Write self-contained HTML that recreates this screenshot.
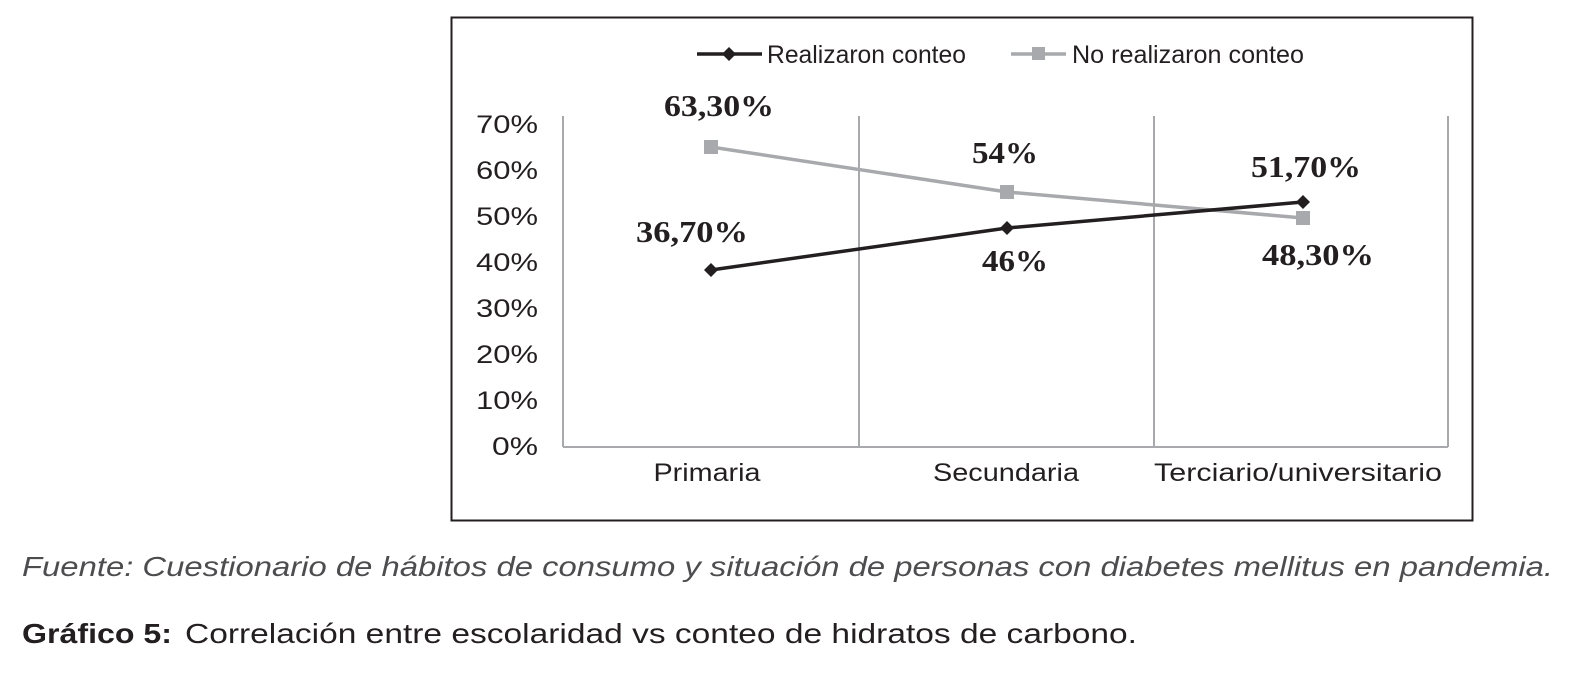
<!DOCTYPE html>
<html><head><meta charset="utf-8"><style>
html,body{margin:0;padding:0;background:#fff;}
svg{display:block;}
</style></head><body>
<svg width="1588" height="684" xmlns="http://www.w3.org/2000/svg" font-family="Liberation Sans, sans-serif">
<rect x="451.5" y="17.5" width="1021" height="503" fill="#fff" stroke="#231f20" stroke-width="2"/>
<g stroke="#a7a9ac" stroke-width="2" fill="none">
<line x1="563" y1="116" x2="563" y2="447"/>
<line x1="859" y1="116" x2="859" y2="447"/>
<line x1="1154" y1="116" x2="1154" y2="447"/>
<line x1="1448" y1="116" x2="1448" y2="447"/>
<line x1="563" y1="447" x2="1448" y2="447"/>
</g>
<g font-size="25" fill="#231f20" text-anchor="end">
<text x="538" y="133" textLength="62" lengthAdjust="spacingAndGlyphs">70%</text>
<text x="538" y="179" textLength="62" lengthAdjust="spacingAndGlyphs">60%</text>
<text x="538" y="225" textLength="62" lengthAdjust="spacingAndGlyphs">50%</text>
<text x="538" y="271" textLength="62" lengthAdjust="spacingAndGlyphs">40%</text>
<text x="538" y="317" textLength="62" lengthAdjust="spacingAndGlyphs">30%</text>
<text x="538" y="363" textLength="62" lengthAdjust="spacingAndGlyphs">20%</text>
<text x="538" y="409" textLength="62" lengthAdjust="spacingAndGlyphs">10%</text>
<text x="538" y="455" textLength="46" lengthAdjust="spacingAndGlyphs">0%</text>
</g>
<g font-size="25" fill="#231f20" text-anchor="middle">
<text x="707" y="481" textLength="107" lengthAdjust="spacingAndGlyphs">Primaria</text>
<text x="1006" y="481" textLength="146" lengthAdjust="spacingAndGlyphs">Secundaria</text>
<text x="1298" y="481" textLength="288" lengthAdjust="spacingAndGlyphs">Terciario/universitario</text>
</g>
<polyline points="711,147 1007,192 1303,218" fill="none" stroke="#a7a9ac" stroke-width="3.5"/>
<g fill="#a7a9ac">
<rect x="704" y="140" width="14" height="14"/>
<rect x="1000" y="185" width="14" height="14"/>
<rect x="1296" y="211" width="14" height="14"/>
</g>
<polyline points="711,270 1007,228 1303,202" fill="none" stroke="#231f20" stroke-width="3.5"/>
<g fill="#231f20">
<polygon points="711,263 718,270 711,277 704,270"/>
<polygon points="1007,221 1014,228 1007,235 1000,228"/>
<polygon points="1303,195 1310,202 1303,209 1296,202"/>
</g>
<g font-family="Liberation Serif, serif" font-weight="bold" font-size="31" fill="#231f20" text-anchor="middle">
<text x="719" y="116" textLength="110" lengthAdjust="spacingAndGlyphs">63,30%</text>
<text x="1005" y="163" textLength="66" lengthAdjust="spacingAndGlyphs">54%</text>
<text x="1306" y="177" textLength="110" lengthAdjust="spacingAndGlyphs">51,70%</text>
<text x="692" y="242" textLength="112" lengthAdjust="spacingAndGlyphs">36,70%</text>
<text x="1015" y="271" textLength="66" lengthAdjust="spacingAndGlyphs">46%</text>
<text x="1318" y="265" textLength="112" lengthAdjust="spacingAndGlyphs">48,30%</text>
</g>
<line x1="697" y1="54" x2="762" y2="54" stroke="#231f20" stroke-width="3.5"/>
<polygon points="729,47 736,54 729,61 722,54" fill="#231f20"/>
<text x="767" y="63" font-size="25" fill="#231f20" textLength="199" lengthAdjust="spacingAndGlyphs">Realizaron conteo</text>
<line x1="1011" y1="54" x2="1066" y2="54" stroke="#a7a9ac" stroke-width="3.5"/>
<rect x="1032" y="47" width="13" height="13" fill="#a7a9ac"/>
<text x="1072" y="63" font-size="25" fill="#231f20" textLength="232" lengthAdjust="spacingAndGlyphs">No realizaron conteo</text>
<text x="22" y="576" font-size="28" font-style="italic" fill="#4d4d4f" textLength="1531" lengthAdjust="spacingAndGlyphs">Fuente: Cuestionario de hábitos de consumo y situación de personas con diabetes mellitus en pandemia.</text>
<text x="22" y="643" font-size="28" font-weight="bold" fill="#231f20" textLength="150" lengthAdjust="spacingAndGlyphs">Gráfico 5:</text>
<text x="185" y="643" font-size="28" fill="#231f20" textLength="952" lengthAdjust="spacingAndGlyphs">Correlación entre escolaridad vs conteo de hidratos de carbono.</text>
</svg>
</body></html>
